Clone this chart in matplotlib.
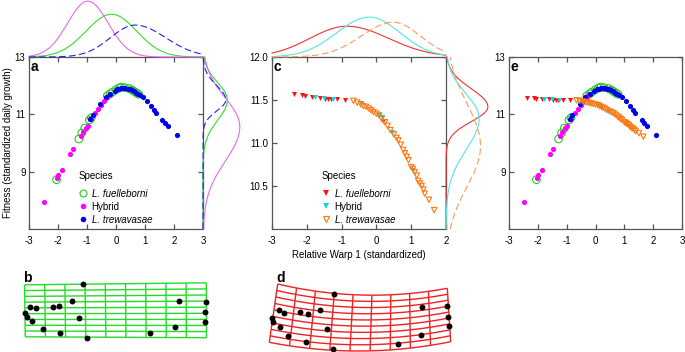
import numpy as np
import matplotlib
matplotlib.use('Agg')
import matplotlib.pyplot as plt
from matplotlib.lines import Line2D

plt.rcParams['font.family'] = ['Liberation Sans', 'DejaVu Sans']
plt.rcParams['axes.unicode_minus'] = False

# ---------------- data ----------------
species = ['L. fuelleborni', 'Hybrid', 'L. trewavasae']

# panel a (body-shape axis vs fitness)
fuel_a_x = [-2.05, -1.28, -1.18, -1.08, -0.92, -0.85, -0.30, -0.20, -0.12, 0.00, 0.10, 0.18, 0.30, 0.45, 0.55, 0.62, 0.70, 0.78]
fuel_a_y = [8.72, 10.14, 10.35, 10.52, 10.80, 10.88, 11.65, 11.72, 11.78, 11.86, 11.92, 11.95, 11.93, 11.90, 11.85, 11.80, 11.75, 11.70]
hyb_a_x = [-2.47, -2.04, -1.99, -1.87, -1.59, -1.47, -1.22, -1.15, -1.05, -0.98, -0.85, -0.72, -0.62, -0.52, -0.42, -0.33, -0.25, 0.05, 0.28]
hyb_a_y = [7.95, 8.79, 8.88, 9.06, 9.62, 9.78, 10.25, 10.38, 10.52, 10.60, 10.82, 11.05, 11.20, 11.33, 11.48, 11.58, 11.66, 11.87, 11.93]
trew_a_x = [-0.90, -0.80, -0.55, -0.35, -0.20, -0.05, 0.05, 0.12, 0.18, 0.25, 0.32, 0.40, 0.47, 0.55, 0.62, 0.68, 0.75, 0.82, 0.92, 1.06, 1.20, 1.31, 1.37, 1.60, 1.69, 1.78, 2.09]
trew_a_y = [10.85, 10.98, 11.35, 11.60, 11.72, 11.83, 11.88, 11.90, 11.92, 11.92, 11.91, 11.90, 11.87, 11.84, 11.80, 11.76, 11.72, 11.67, 11.60, 11.46, 11.28, 11.14, 11.06, 10.80, 10.69, 10.60, 10.27]

# panel c (Relative Warp 1 vs fitness)
fuel_c_x = [-2.36, -2.15, -2.05, -1.86, -1.62, -1.47, -1.38, -1.30, -1.14, -0.90, 0.20]
fuel_c_y = [11.57, 11.56, 11.55, 11.54, 11.52, 11.51, 11.51, 11.51, 11.51, 11.50, 11.26]
hyb_c_x = [-1.77, -1.52, -1.25, -0.45, 0.07, 0.15, 0.44, 1.06]
hyb_c_y = [11.53, 11.52, 11.51, 11.46, 11.33, 11.30, 11.13, 10.69]
trew_c_x = [-0.66, -0.55, -0.45, -0.38, -0.30, -0.22, -0.15, -0.08, 0.00, 0.08, 0.15, 0.25, 0.32, 0.40, 0.50, 0.58, 0.63,
            0.70, 0.77, 0.82, 0.87, 0.92, 1.00, 1.05, 1.10, 1.16, 1.20, 1.25, 1.30, 1.35, 1.39, 1.51, 1.66]
trew_c_y = [11.49, 11.47, 11.45, 11.43, 11.42, 11.40, 11.38, 11.36, 11.34, 11.32, 11.28, 11.24, 11.20, 11.15, 11.10, 11.06, 11.03,
            10.98, 10.92, 10.88, 10.84, 10.80, 10.72, 10.70, 10.66, 10.62, 10.56, 10.53, 10.50, 10.46, 10.41, 10.34, 10.22]

# marginal density curves: (mean, sd below mean, sd above mean, relative peak)
dens_a_top = {'L. fuelleborni': (-0.15, 0.88, 0.86, 0.75), 'Hybrid': (-0.97, 0.70, 0.70, 0.98), 'L. trewavasae': (0.66, 0.85, 1.05, 0.56)}
dens_a_right = {'L. fuelleborni': (11.50, 0.70, 0.60, 0.61), 'Hybrid': (10.57, 1.20, 1.00, 0.92), 'L. trewavasae': (11.50, 0.38, 0.50, 0.57)}
dens_c_top = {'L. fuelleborni': (-0.85, 1.06, 1.20, 0.54), 'Hybrid': (-0.20, 0.94, 0.88, 0.70), 'L. trewavasae': (0.49, 0.92, 0.77, 0.61)}
dens_c_right = {'L. fuelleborni': (11.42, 0.17, 0.21, 0.91), 'Hybrid': (11.29, 0.37, 0.28, 0.72), 'L. trewavasae': (10.96, 0.47, 0.50, 0.75)}

# landmark configurations for the deformation grids
lm_b_x = [30.0, 36.0, 52.7, 59.3, 71.7, 25.0, 27.3, 32.3, 42.7, 60.0, 78.5, 86.5, 83.3, 150.0, 175.0, 178.5, 205.8, 205.3, 205.3]
lm_b_y = [307.3, 307.7, 307.3, 306.0, 301.4, 313.3, 317.3, 320.7, 328.7, 333.3, 317.8, 338.3, 284.3, 333.3, 327.0, 300.5, 302.2, 312.2, 322.3]
lm_d_x = [334.3, 279.3, 284.0, 300.3, 308.0, 319.7, 272.3, 273.3, 280.0, 288.0, 306.0, 327.0, 333.3, 398.3, 420.7, 422.3, 447.3, 447.7, 449.3]
lm_d_y = [294.3, 310.0, 313.3, 312.3, 314.3, 309.7, 317.7, 322.3, 327.3, 335.7, 342.3, 328.7, 349.3, 344.3, 334.7, 307.0, 306.3, 316.7, 326.0]

# ---------------- styles ----------------
W, H = 685, 352
fig = plt.figure(figsize=(W / 100, H / 100), dpi=100)

col_a = {'L. fuelleborni': '#22cc22', 'Hybrid': '#ff00ff', 'L. trewavasae': '#0000ee'}
col_c = {'L. fuelleborni': '#ff1111', 'Hybrid': '#00dddd', 'L. trewavasae': '#ff7711'}
line_a = {'L. fuelleborni': ('#33dd33', '-'), 'Hybrid': ('#ee66ee', '-'), 'L. trewavasae': ('#2222ee', (0, (6, 3)))}
line_c = {'L. fuelleborni': ('#ee3333', '-'), 'Hybrid': ('#55e5e5', '-'), 'L. trewavasae': ('#ff9955', (0, (6, 3)))}
SPINE = '#555555'


def px_axes(x0, y0, x1, y1):
    return fig.add_axes([x0 / W, 1 - y1 / H, (x1 - x0) / W, (y1 - y0) / H])


def style(ax, xlim, ylim, xticks, yticks, yfmt):
    ax.set_xlim(*xlim)
    ax.set_ylim(*ylim)
    ax.set_xticks(xticks)
    ax.set_xticklabels([f'{v:g}' for v in xticks])
    ax.set_yticks(yticks)
    ax.set_yticklabels([yfmt.format(v) for v in yticks])
    ax.tick_params(direction='in', top=True, right=True, length=3.5, width=0.9, color=SPINE,
                   labelsize=7, pad=5)
    ax.tick_params(axis='y', pad=2.5)
    for sp in ax.spines.values():
        sp.set_color(SPINE)
        sp.set_linewidth(0.9)


def split_gauss(t, mu, slo, shi, peak):
    s = np.where(t < mu, slo, shi)
    return peak * np.exp(-0.5 * ((t - mu) / s) ** 2)


def scatter_a(ax):
    ax.scatter(fuel_a_x, fuel_a_y, s=30, facecolors='none', edgecolors=col_a[species[0]], linewidths=0.8, zorder=3)
    ax.scatter(hyb_a_x, hyb_a_y, s=14, color=col_a[species[1]], linewidths=0, zorder=4)
    ax.scatter(trew_a_x, trew_a_y, s=14, color=col_a[species[2]], linewidths=0, zorder=5)


def scatter_c(ax):
    ax.scatter(fuel_c_x, fuel_c_y, s=13, marker='v', color=col_c[species[0]], linewidths=0, zorder=3)
    ax.scatter(hyb_c_x, hyb_c_y, s=13, marker='v', color=col_c[species[1]], linewidths=0, zorder=4)
    ax.scatter(trew_c_x, trew_c_y, s=15, marker='v', facecolors='none', edgecolors=col_c[species[2]],
               linewidths=0.8, zorder=5)


def add_legend(ax, handles):
    leg = ax.legend(handles, species, title='Species', loc='upper left', bbox_to_anchor=(0.285, 0.34),
                    frameon=False, fontsize=7, title_fontsize=7, alignment='left', handlelength=1.0,
                    handletextpad=0.35, labelspacing=0.3, borderpad=0, borderaxespad=0)
    for t in leg.get_texts():
        if t.get_text().startswith('L.'):
            t.set_fontstyle('italic')
    leg._legend_box.sep = 6


def marginals(ax_top, ax_right, xlim, ylim, dens_top, dens_right, lines):
    tx = np.linspace(xlim[0], xlim[1], 400)
    ty = np.linspace(ylim[0], ylim[1], 400)
    for sp in species:
        c, ls = lines[sp]
        ax_top.plot(tx, split_gauss(tx, *dens_top[sp]), color=c, ls=ls, lw=0.8, clip_on=False)
        ax_right.plot(split_gauss(ty, *dens_right[sp]), ty, color=c, ls=ls, lw=0.8, clip_on=False)
    ax_top.set_xlim(*xlim)
    ax_top.set_ylim(0, 1)
    ax_right.set_ylim(*ylim)
    ax_right.set_xlim(0, 1)
    ax_top.axis('off')
    ax_right.axis('off')


# ---------------- panel a ----------------
ax_a = px_axes(29, 57, 203, 229)
scatter_a(ax_a)
style(ax_a, (-3, 3), (7, 13), [-3, -2, -1, 0, 1, 2, 3], [9, 11, 13], '{:g}')
add_legend(ax_a, [Line2D([], [], ls='none', marker='o', ms=5, mfc='none', mec=col_a[species[0]], mew=0.8),
                  Line2D([], [], ls='none', marker='o', ms=4, color=col_a[species[1]], mew=0),
                  Line2D([], [], ls='none', marker='o', ms=4, color=col_a[species[2]], mew=0)])
ax_a.text(0.01, 0.985, 'a', transform=ax_a.transAxes, fontsize=10, fontweight='bold', va='top', ha='left')
marginals(px_axes(29, 0, 203, 57), px_axes(203, 57, 243, 229), (-3, 3), (7, 13), dens_a_top, dens_a_right, line_a)

# ---------------- panel c ----------------
ax_c = px_axes(272, 57, 446, 229)
scatter_c(ax_c)
style(ax_c, (-3, 2), (10.0, 12.0), [-3, -2, -1, 0, 1, 2], [10.5, 11.0, 11.5, 12.0], '{:.1f}')
add_legend(ax_c, [Line2D([], [], ls='none', marker='v', ms=4.5, color=col_c[species[0]], mew=0),
                  Line2D([], [], ls='none', marker='v', ms=4.5, color=col_c[species[1]], mew=0),
                  Line2D([], [], ls='none', marker='v', ms=4.5, mfc='none', mec=col_c[species[2]], mew=0.8)])
ax_c.text(0.01, 0.985, 'c', transform=ax_c.transAxes, fontsize=10, fontweight='bold', va='top', ha='left')
ax_c.set_xlabel('Relative Warp 1 (standardized)', fontsize=7, labelpad=3)
marginals(px_axes(272, 0, 446, 57), px_axes(446, 57, 492, 229), (-3, 2), (10.0, 12.0), dens_c_top, dens_c_right, line_c)

# ---------------- panel e ----------------
ax_e = px_axes(509, 57, 682, 229)
scatter_a(ax_e)
scatter_c(ax_e)
style(ax_e, (-3, 3), (7, 13), [-3, -2, -1, 0, 1, 2, 3], [9, 11, 13], '{:g}')
ax_e.text(0.01, 0.985, 'e', transform=ax_e.transAxes, fontsize=10, fontweight='bold', va='top', ha='left')

fig.text(8 / W, 1 - 143 / H, 'Fitness (standardized daily growth)', rotation=90, fontsize=7, ha='center', va='center')


# ---------------- deformation grids ----------------
def grid(ax, tl, tr, bl, br, sag_top, sag_bot, color, n=10):
    tl, tr, bl, br = map(np.array, (tl, tr, bl, br))

    def P(s, t):
        top = (1 - s)[:, None] * tl + s[:, None] * tr
        bot = (1 - s)[:, None] * bl + s[:, None] * br
        p = (1 - t)[:, None] * top + t[:, None] * bot
        sag = ((1 - t) * sag_top + t * sag_bot) * 4 * s * (1 - s)
        p[:, 1] += sag
        return p
    fine = np.linspace(0, 1, 60)
    for k in np.linspace(0, 1, n):
        p = P(np.full_like(fine, k), fine)
        ax.plot(p[:, 0], p[:, 1], color=color, lw=1.0, solid_capstyle='butt')
        p = P(fine, np.full_like(fine, k))
        ax.plot(p[:, 0], p[:, 1], color=color, lw=1.0, solid_capstyle='butt')


ax_b = px_axes(15, 262, 225, 352)
ax_b.set_xlim(15, 225)
ax_b.set_ylim(352, 262)
ax_b.axis('off')
grid(ax_b, (24.5, 284.8), (206.3, 282.8), (25.3, 336.8), (206.5, 337.7), 0, 0, '#22dd22')
ax_b.scatter(lm_b_x, lm_b_y, s=18, color='black', zorder=3, linewidths=0)
ax_b.text(23, 271, 'b', fontsize=10, fontweight='bold', va='top', ha='left')

ax_d = px_axes(258, 262, 468, 352)
ax_d.set_xlim(258, 468)
ax_d.set_ylim(352, 262)
ax_d.axis('off')
grid(ax_d, (277.7, 284.0), (447.3, 288.3), (269.3, 342.3), (450.7, 341.7), 8.9, 9.0, '#ee2222')
ax_d.scatter(lm_d_x, lm_d_y, s=18, color='black', zorder=3, linewidths=0)
ax_d.text(276, 271, 'd', fontsize=10, fontweight='bold', va='top', ha='left')

fig.savefig('out.png', dpi=100)
